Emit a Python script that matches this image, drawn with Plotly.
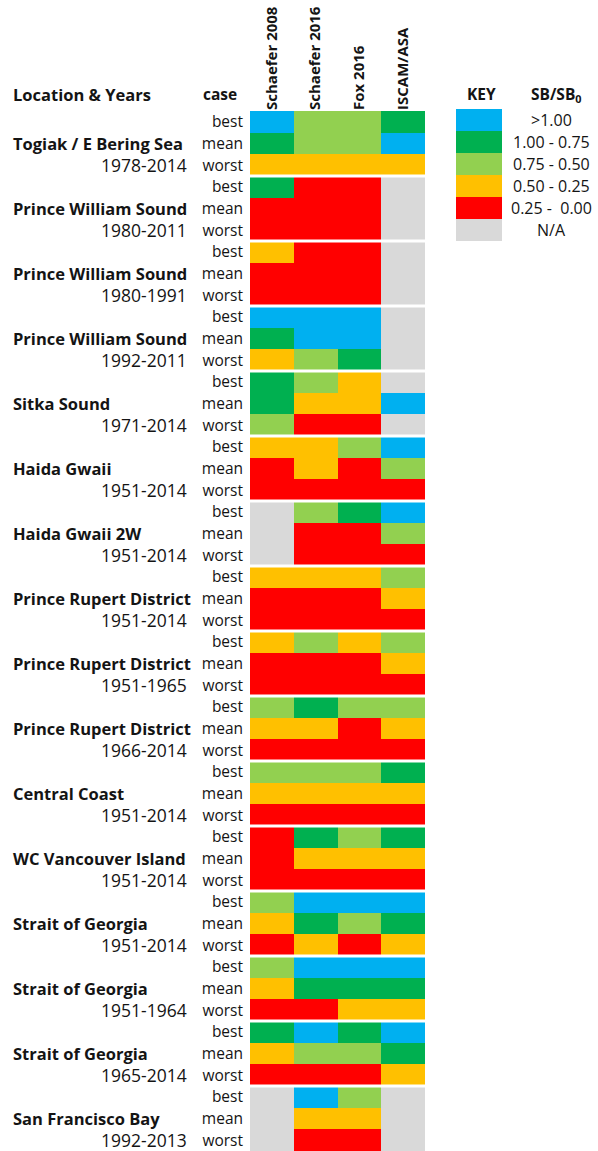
import plotly.graph_objects as go

# ---- data ----
models = ["Schaefer 2008", "Schaefer 2016", "Fox 2016", "ISCAM/ASA"]
locations = ["Togiak / E Bering Sea", "Prince William Sound", "Prince William Sound",
             "Prince William Sound", "Sitka Sound", "Haida Gwaii", "Haida Gwaii 2W",
             "Prince Rupert District", "Prince Rupert District", "Prince Rupert District",
             "Central Coast", "WC Vancouver Island", "Strait of Georgia",
             "Strait of Georgia", "Strait of Georgia", "San Francisco Bay"]
years = ["1978-2014", "1980-2011", "1980-1991", "1992-2011", "1971-2014", "1951-2014",
         "1951-2014", "1951-2014", "1951-1965", "1966-2014", "1951-2014", "1951-2014",
         "1951-2014", "1951-1964", "1965-2014", "1992-2013"]
cases = ["best", "mean", "worst"]
# status class: 5 = >1.00, 4 = 1.00-0.75, 3 = 0.75-0.50, 2 = 0.50-0.25, 1 = 0.25-0.00, 0 = N/A
status = [
    [[5, 3, 3, 4], [4, 3, 3, 5], [2, 2, 2, 2]],
    [[4, 1, 1, 0], [1, 1, 1, 0], [1, 1, 1, 0]],
    [[2, 1, 1, 0], [1, 1, 1, 0], [1, 1, 1, 0]],
    [[5, 5, 5, 0], [4, 5, 5, 0], [2, 3, 4, 0]],
    [[4, 3, 2, 0], [4, 2, 2, 5], [3, 1, 1, 0]],
    [[2, 2, 3, 5], [1, 2, 1, 3], [1, 1, 1, 1]],
    [[0, 3, 4, 5], [0, 1, 1, 3], [0, 1, 1, 1]],
    [[2, 2, 2, 3], [1, 1, 1, 2], [1, 1, 1, 1]],
    [[2, 3, 2, 3], [1, 1, 1, 2], [1, 1, 1, 1]],
    [[3, 4, 3, 3], [2, 2, 1, 2], [1, 1, 1, 1]],
    [[3, 3, 3, 4], [2, 2, 2, 2], [1, 1, 1, 1]],
    [[1, 4, 3, 4], [1, 2, 2, 2], [1, 1, 1, 1]],
    [[3, 5, 5, 5], [2, 4, 3, 4], [1, 2, 1, 2]],
    [[3, 5, 5, 5], [2, 4, 4, 4], [1, 1, 2, 2]],
    [[4, 5, 4, 5], [2, 3, 3, 4], [1, 1, 1, 2]],
    [[0, 5, 3, 0], [0, 2, 2, 0], [0, 1, 1, 0]],
]
key_classes = [5, 4, 3, 2, 1, 0]
key_labels = [">1.00", "1.00 - 0.75", "0.75 - 0.50", "0.50 - 0.25", "0.25 -  0.00", "N/A"]
class_colors = ["#D9D9D9", "#FF0000", "#FFC000", "#92D050", "#00B050", "#00B0F0"]

# ---- layout constants ----
W, H = 598, 1151
FONT = "'Open Sans', sans-serif"
TXT = "#141414"

def px_x(p):
    return p / W

def px_y(p):
    return 1 - p / H

colorscale = []
n = len(class_colors)
for i, c in enumerate(class_colors):
    colorscale.append([i / n, c])
    colorscale.append([(i + 1) / n, c])

z = []
row_text = []
for g in status:
    for ci, r in enumerate(g):
        z.append(r)
        row_text.append(cases[ci])
nrows = len(z)

fig = go.Figure()
fig.add_trace(go.Heatmap(
    z=z, x=list(range(len(models))), y=list(range(nrows)),
    colorscale=colorscale, zmin=-0.5, zmax=n - 0.5, showscale=False,
    hoverinfo="skip", xaxis="x", yaxis="y"))

fig.add_trace(go.Heatmap(
    z=[[k] for k in key_classes], x=[0], y=list(range(len(key_classes))),
    colorscale=colorscale, zmin=-0.5, zmax=n - 0.5, showscale=False,
    hoverinfo="skip", xaxis="x2", yaxis="y2"))

shapes = []
for gi in range(1, len(status)):
    yb = gi * 3 - 0.5
    shapes.append(dict(type="line", xref="x", yref="y", x0=-0.5, x1=len(models) - 0.5,
                       y0=yb, y1=yb, line=dict(color="white", width=3)))

ann = []
for gi, (loc, yr) in enumerate(zip(locations, years)):
    ann.append(dict(text="<b>" + loc + "</b>", xref="paper", yref="y", x=px_x(11),
                    y=gi * 3 + 1, xanchor="left", yanchor="middle", showarrow=False,
                    font=dict(family=FONT, size=16.5, color=TXT)))
    ann.append(dict(text=yr, xref="paper", yref="y", x=px_x(189),
                    y=gi * 3 + 2, xanchor="right", yanchor="middle", showarrow=False,
                    font=dict(family=FONT, size=17.5, color=TXT)))
for k, lab in enumerate(key_labels):
    ann.append(dict(text=lab, xref="paper", yref="y2", x=px_x(551), y=k,
                    xanchor="center", yanchor="middle", showarrow=False,
                    font=dict(family=FONT, size=16, color=TXT)))
hy = px_y(94)
ann += [
    dict(text="<b>Location & Years</b>", xref="paper", yref="paper", x=px_x(11), y=hy,
         xanchor="left", yanchor="middle", showarrow=False,
         font=dict(family=FONT, size=16.5, color=TXT)),
    dict(text="<b>case</b>", xref="paper", yref="paper", x=px_x(239), y=hy,
         xanchor="right", yanchor="middle", showarrow=False,
         font=dict(family=FONT, size=15.5, color=TXT)),
    dict(text="<b>KEY</b>", xref="paper", yref="paper", x=px_x(481), y=hy,
         xanchor="center", yanchor="middle", showarrow=False,
         font=dict(family=FONT, size=15.5, color=TXT)),
    dict(text="<b>SB/SB<sub>0</sub></b>", xref="paper", yref="paper", x=px_x(556), y=hy,
         xanchor="center", yanchor="middle", showarrow=False,
         font=dict(family=FONT, size=15.5, color=TXT)),
]

fig.update_layout(
    width=W, height=H, margin=dict(l=0, r=0, t=0, b=0),
    paper_bgcolor="white", plot_bgcolor="white",
    shapes=shapes, annotations=ann,
    xaxis=dict(domain=[px_x(250), px_x(425)], range=[-0.5, len(models) - 0.5],
               side="top", tickvals=list(range(len(models))),
               ticktext=["<b>" + m + "</b>" for m in models], tickangle=-90,
               ticks="", showgrid=False, zeroline=False, showline=False,
               tickfont=dict(family=FONT, size=15, color=TXT), anchor="y"),
    yaxis=dict(domain=[0, px_y(111)], range=[nrows - 0.5, -0.5],
               tickvals=list(range(nrows)), ticktext=row_text, ticks="",
               ticklabelstandoff=6, showgrid=False, zeroline=False, showline=False,
               tickfont=dict(family=FONT, size=15.5, color=TXT), anchor="x"),
    xaxis2=dict(domain=[px_x(456), px_x(502)], range=[-0.5, 0.5], visible=False,
                anchor="y2"),
    yaxis2=dict(domain=[px_y(241), px_y(109)], range=[len(key_classes) - 0.5, -0.5],
                visible=False, anchor="x2"),
)

fig.write_html("out.html")
